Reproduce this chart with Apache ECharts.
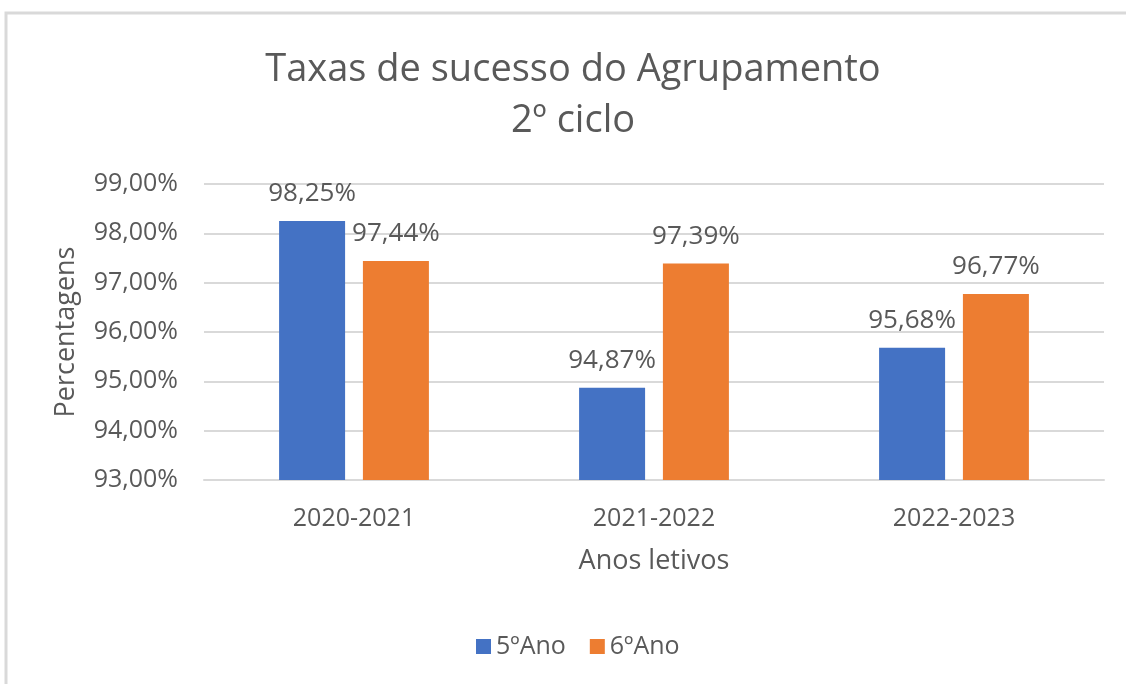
<!DOCTYPE html>
<html>
<head>
<meta charset="utf-8">
<script src="https://cdn.jsdelivr.net/npm/echarts@6/dist/echarts.min.js"></script>
<style>html,body{margin:0;padding:0;background:#fff}#c{width:1126px;height:684px}</style>
</head>
<body>
<div id="c"></div>
<script>
const categories = ['2020-2021', '2021-2022', '2022-2023'];
const ano5 = [98.25, 94.87, 95.68];
const ano6 = [97.44, 97.39, 96.77];
const seriesNames = ['5ºAno', '6ºAno'];

const FONT = '"Open Sans", "Noto Sans", sans-serif';
const TXT = '#595959';
const fmt = v => v.toFixed(2).replace('.', ',') + '%';

const chart = echarts.init(document.getElementById('c'));
const labelCfg = {
  show: true, position: 'top', distance: 14,
  color: TXT, fontSize: 26, fontFamily: FONT,
  formatter: p => fmt(p.value)
};
chart.setOption({
  animation: false,
  backgroundColor: '#fff',
  title: {
    text: 'Taxas de sucesso do Agrupamento\n2º ciclo',
    left: 568, top: 40, textAlign: 'center',
    textStyle: { color: TXT, fontSize: 38, fontWeight: 'normal', fontFamily: FONT, lineHeight: 51 }
  },
  legend: {
    bottom: 20, left: 471,
    itemWidth: 15, itemHeight: 15, itemGap: 24,
    icon: 'rect',
    textStyle: { color: TXT, fontSize: 25, fontFamily: FONT },
    data: seriesNames
  },
  grid: { left: 204, right: 22, top: 184, bottom: 204 },
  xAxis: {
    type: 'category', data: categories,
    name: 'Anos letivos', nameLocation: 'middle', nameGap: 68,
    nameTextStyle: { color: TXT, fontSize: 27, fontFamily: FONT },
    axisLine: { lineStyle: { color: '#d9d9d9', width: 2 } },
    axisTick: { show: false },
    axisLabel: { color: TXT, fontSize: 25, fontFamily: FONT, margin: 26 }
  },
  yAxis: {
    type: 'value', min: 93, max: 99, interval: 1,
    name: 'Percentagens', nameLocation: 'middle', nameGap: 124, nameRotate: 90,
    nameTextStyle: { color: TXT, fontSize: 27, fontFamily: FONT },
    axisLine: { show: false }, axisTick: { show: false },
    axisLabel: { color: TXT, fontSize: 25, fontFamily: FONT, margin: 26, formatter: v => fmt(v) },
    splitLine: { lineStyle: { color: '#d9d9d9', width: 2 } }
  },
  series: [
    { name: seriesNames[0], type: 'bar', data: ano5, barWidth: '22%', barGap: '27%',
      itemStyle: { color: '#4472C4' }, label: labelCfg },
    { name: seriesNames[1], type: 'bar', data: ano6, barWidth: '22%', barGap: '27%',
      itemStyle: { color: '#ED7D31' }, label: labelCfg }
  ],
  graphic: [{
    type: 'polyline',
    shape: { points: [[6, 684], [6, 13], [1126, 13]] },
    style: { stroke: '#d9d9d9', lineWidth: 3, fill: null }
  }]
});
</script>
</body>
</html>
